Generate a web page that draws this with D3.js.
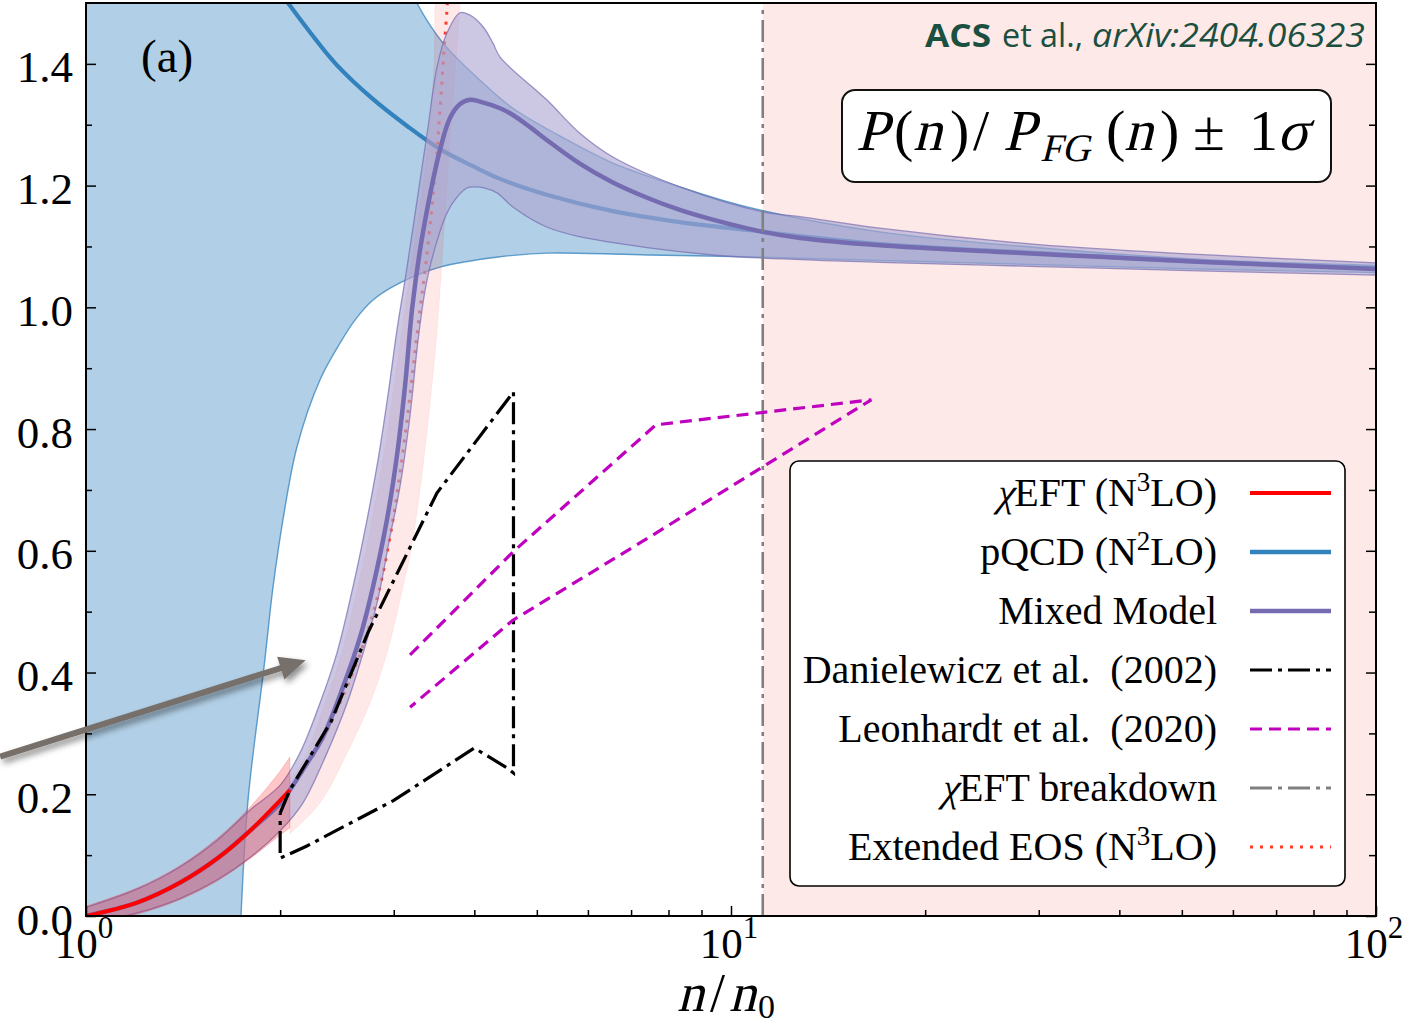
<!DOCTYPE html>
<html>
<head>
<meta charset="utf-8">
<title>P(n)/P_FG(n)</title>
<script src="https://cdn.jsdelivr.net/npm/d3@7/dist/d3.min.js"></script>
<style>
  html, body { margin: 0; padding: 0; background: #fff; }
  svg { display: block; }
</style>
</head>
<body>
<svg id="chart" width="1404" height="1030"></svg>
<script>
// ---------------------------------------------------------------
// Pressure normalised to the free Fermi gas, P(n)/P_FG(n), vs n/n0
// Each series is a list of [n/n0, P/P_FG] pairs.
// ---------------------------------------------------------------

// chiral EFT (N3LO): central value and 1-sigma band
const chiEftMid = [[1.0,0.0],[1.2,0.022],[1.4,0.055],[1.6,0.095],[1.8,0.141],[2.0,0.19],[2.07,0.207]];
const chiEftHi  = [[1.0,0.016],[1.2,0.046],[1.4,0.083],[1.6,0.128],[1.8,0.18],[2.0,0.238],[2.07,0.261]];
const chiEftLo  = [[1.0,-0.014],[1.2,0.003],[1.4,0.027],[1.6,0.058],[1.8,0.095],[2.0,0.133],[2.07,0.145]];

// pQCD (N2LO): central value and band
const pqcdMid = [[1.929,1.541],[2.057,1.5],[2.225,1.452],[2.449,1.398],[2.786,1.342],[3.146,1.298],[3.539,1.26],
  [3.981,1.232],[4.385,1.211],[5.18,1.185],[6.56,1.158],[8.33,1.14],[10.59,1.127],[17,1.104],[30,1.089],
  [53,1.075],[100,1.064]];
const pqcdHi = [[1.0,2.5],[2.8,2.0],[3.0,1.62],[3.124,1.545],[3.258,1.5],[3.578,1.434],[4.082,1.373],[4.59,1.327],
  [5.57,1.275],[6.56,1.237],[8.33,1.198],[10.59,1.165],[17,1.124],[30,1.098],[53,1.079],[100,1.069]];
const pqcdLo = [[1.0,-1.0],[1.6,-0.8],[1.70,-0.3],[1.739,0.0],[1.783,0.19],[1.888,0.409],[1.95,0.541],[2.02,0.651],
  [2.124,0.771],[2.306,0.881],[2.476,0.941],[2.612,0.979],[2.786,1.012],[3.067,1.04],[3.539,1.066],[4.385,1.083],
  [5.18,1.089],[7.41,1.086],[10.59,1.083],[17,1.077],[30,1.07],[53,1.063],[100,1.057]];

// Mixed model: central value and 1-sigma band
const mixedMid = [[1.0,0.0],[1.2,0.022],[1.4,0.055],[1.6,0.095],[1.8,0.141],[2.0,0.185],[2.071,0.207],[2.186,0.246],
  [2.33,0.294],[2.503,0.376],[2.66,0.458],[2.786,0.541],[2.928,0.651],[3.035,0.757],[3.124,0.872],[3.202,0.996],
  [3.295,1.094],[3.415,1.185],[3.539,1.259],[3.667,1.311],[3.801,1.334],[3.94,1.341],[4.082,1.338],[4.385,1.327],
  [4.59,1.316],[4.88,1.296],[5.18,1.275],[5.83,1.236],[6.56,1.205],[7.41,1.18],[8.33,1.16],[9.37,1.144],
  [11.2,1.124],[12.8,1.114],[17,1.102],[26.1,1.091],[37.3,1.083],[53,1.075],[100,1.063]];
const mixedHi = [[1.0,0.014],[1.2,0.044],[1.4,0.081],[1.6,0.125],[1.8,0.175],[2.0,0.215],[2.147,0.268],[2.306,0.35],
  [2.449,0.432],[2.594,0.541],[2.727,0.651],[2.836,0.749],[2.939,0.856],[3.035,0.963],[3.146,1.066],[3.261,1.176],
  [3.38,1.286],[3.502,1.395],[3.628,1.451],[3.801,1.484],[3.94,1.48],[4.126,1.461],[4.276,1.434],[4.385,1.411],
  [5.18,1.341],[5.83,1.286],[6.56,1.247],[8.33,1.198],[11.2,1.157],[12.8,1.149],[17,1.13],[30,1.103],[53,1.087],
  [100,1.073]];
const mixedLo = [[1.0,-0.012],[1.2,0.005],[1.4,0.029],[1.6,0.06],[1.8,0.097],[2.0,0.14],[2.17,0.186],[2.364,0.268],
  [2.54,0.35],[2.689,0.432],[2.826,0.514],[2.96,0.623],[3.067,0.705],[3.18,0.823],[3.272,0.946],[3.355,1.028],
  [3.451,1.086],[3.628,1.155],[3.76,1.181],[3.896,1.196],[4.01,1.198],[4.156,1.196],[4.338,1.188],[4.59,1.165],
  [5.18,1.132],[5.83,1.116],[7.41,1.098],[9.37,1.086],[11.2,1.081],[17,1.074],[30,1.067],[53,1.06],[100,1.053]];

// Extended EOS (N3LO): central value and band
const extMid = [[2.07,0.207],[2.3,0.28],[2.5,0.36],[2.7,0.45],[2.856,0.541],[2.96,0.623],[3.046,0.705],[3.146,0.815],
  [3.225,0.913],[3.295,0.996],[3.355,1.061],[3.415,1.135],[3.476,1.217],[3.539,1.324],[3.59,1.423],[3.628,1.489],
  [3.654,1.538]];
const extHi = [[2.07,0.225],[2.186,0.261],[2.347,0.35],[2.494,0.432],[2.641,0.541],[2.776,0.651],[2.887,0.749],
  [2.992,0.856],[3.09,0.963],[3.19,1.066],[3.306,1.176],[3.402,1.286],[3.463,1.395],[3.476,1.5],[3.49,1.555]];
const extLo = [[2.07,0.135],[2.306,0.186],[2.54,0.268],[2.756,0.35],[2.928,0.432],[3.101,0.541],[3.18,0.593],
  [3.295,0.7],[3.415,0.843],[3.502,0.963],[3.641,1.226],[3.801,1.497],[3.842,1.571]];

// Danielewicz et al. (2002) flow constraint (closed contour)
const daniUpper = [[2.0,0.169],[2.07,0.207],[2.4,0.32],[2.74,0.467],[3.5,0.695],[4.6,0.861]];
const daniLower = [[4.6,0.235],[4.5,0.243],[4.0,0.276],[3.0,0.19],[2.2,0.115],[2.0,0.095],[2.0,0.169]];

// Leonhardt et al. (2020)
const leonUpper = [[3.18,0.429],[4.59,0.598],[7.65,0.807],[16.5,0.848]];
const leonLower = [[3.18,0.343],[4.59,0.486],[7.65,0.629],[11.2,0.738],[16.5,0.848]];

// chiral EFT breakdown density
const breakdownDensity = 11.2;

// arrow annotation: tail and tip in data coordinates
const arrowTail = [0.736, 0.262];
const arrowTip  = [2.19, 0.42];

// ticks
const yMajorTicks = [0, 0.2, 0.4, 0.6, 0.8, 1.0, 1.2, 1.4];
const yMinorTicks = [0.1, 0.3, 0.5, 0.7, 0.9, 1.1, 1.3];
const xMajorTicks = [1, 10, 100];
const xTickExponents = ['0', '1', '2'];
const xMinorTicks = [2,3,4,5,6,7,8,9,20,30,40,50,60,70,80,90];

// legend labels (^d marks a superscript digit; a leading χ is set slanted)
const legendLabels = [
  'χEFT (N^3LO)',
  'pQCD (N^2LO)',
  'Mixed Model',
  'Danielewicz et al.  (2002)',
  'Leonhardt et al.  (2020)',
  'χEFT breakdown',
  'Extended EOS (N^3LO)'
];

// ---------------------------------------------------------------
const SERIF = "'Liberation Serif','Times New Roman',serif";
const COL = {
  red: '#ff0000',
  blue: '#3182bd',
  purple: '#756bb1',
  purpleFill: '#afa6d1',
  black: '#000000',
  magenta: '#bf00bf',
  gray: '#808080',
  dotted: '#ff3b26',
  pink: '#fde9e7'
};
const DASHDOT = '22,6,4,6';
const DASHED = '12,7';
const DOTTED = '3,7';

const svg = d3.select('#chart').attr('font-family', SERIF);

const x = d3.scaleLog().domain([1, 100]).range([86, 1376]);
const y = d3.scaleLinear().domain([0, 1.5]).range([916, 3]);

const defs = svg.append('defs');
defs.append('clipPath').attr('id', 'plot-clip')
  .append('rect')
  .attr('x', x(1)).attr('y', y(1.5))
  .attr('width', x(100) - x(1)).attr('height', y(0) - y(1.5));

const shadow = defs.append('filter').attr('id', 'arrow-shadow')
  .attr('x', '-20%').attr('y', '-50%').attr('width', '140%').attr('height', '200%');
shadow.append('feDropShadow')
  .attr('dx', 3).attr('dy', 4).attr('stdDeviation', 3)
  .attr('flood-color', '#000').attr('flood-opacity', 0.45);

const smooth = d3.line().x(d => x(d[0])).y(d => y(d[1])).curve(d3.curveCatmullRom.alpha(0.5));
const straight = d3.line().x(d => x(d[0])).y(d => y(d[1]));
const band = (hi, lo) => smooth(hi) + smooth(lo.slice().reverse()).replace(/^M/, 'L') + 'Z';

const plot = svg.append('g').attr('clip-path', 'url(#plot-clip)');

// region beyond the chiral EFT breakdown density
plot.append('rect')
  .attr('x', x(breakdownDensity)).attr('y', y(1.5))
  .attr('width', x(100) - x(breakdownDensity)).attr('height', y(0) - y(1.5))
  .attr('fill', COL.pink);

// pQCD band + central line
plot.append('path').attr('d', band(pqcdHi, pqcdLo))
  .attr('fill', COL.blue).attr('fill-opacity', 0.38).attr('stroke', 'none');
[pqcdHi, pqcdLo].forEach(edge => plot.append('path').attr('d', smooth(edge))
  .attr('fill', 'none').attr('stroke', COL.blue).attr('stroke-opacity', 0.75).attr('stroke-width', 1.4));
plot.append('path').attr('d', smooth(pqcdMid))
  .attr('fill', 'none').attr('stroke', COL.blue).attr('stroke-width', 4.2);

// extended EOS band + dotted central line
plot.append('path').attr('d', band(extHi, extLo))
  .attr('fill', COL.red).attr('fill-opacity', 0.09).attr('stroke', COL.red).attr('stroke-opacity', 0.06);
plot.append('path').attr('d', smooth(extMid))
  .attr('fill', 'none').attr('stroke', COL.dotted).attr('stroke-width', 3)
  .attr('stroke-dasharray', DOTTED);

// mixed model band
plot.append('path').attr('d', band(mixedHi, mixedLo))
  .attr('fill', COL.purpleFill).attr('fill-opacity', 0.63).attr('stroke', 'none');
[mixedHi, mixedLo].forEach(edge => plot.append('path').attr('d', smooth(edge))
  .attr('fill', 'none').attr('stroke', COL.purple).attr('stroke-opacity', 0.7).attr('stroke-width', 1.3));

// chiral EFT band
plot.append('path').attr('d', band(chiEftHi, chiEftLo))
  .attr('fill', COL.red).attr('fill-opacity', 0.22)
  .attr('stroke', COL.red).attr('stroke-opacity', 0.2).attr('stroke-width', 1);

// central lines
plot.append('path').attr('d', smooth(mixedMid))
  .attr('fill', 'none').attr('stroke', COL.purple).attr('stroke-width', 4.5);
plot.append('path').attr('d', smooth(chiEftMid))
  .attr('fill', 'none').attr('stroke', COL.red).attr('stroke-width', 4);

// chiral EFT breakdown line
plot.append('line')
  .attr('x1', x(breakdownDensity)).attr('x2', x(breakdownDensity))
  .attr('y1', y(0)).attr('y2', y(1.5))
  .attr('stroke', COL.gray).attr('stroke-width', 2.6).attr('stroke-dasharray', DASHDOT);

// Danielewicz et al. (2002)
plot.append('path').attr('d', straight(daniUpper.concat(daniLower)))
  .attr('fill', 'none').attr('stroke', COL.black).attr('stroke-width', 3.2)
  .attr('stroke-dasharray', DASHDOT);

// Leonhardt et al. (2020)
plot.append('path').attr('d', straight(leonUpper.concat(leonLower.slice().reverse())))
  .attr('fill', 'none').attr('stroke', COL.magenta).attr('stroke-width', 3.2)
  .attr('stroke-dasharray', DASHED);

// ---------------- axes ----------------
function styleAxis(g) {
  g.select('.domain').remove();
  g.selectAll('.tick line').attr('stroke', '#000').attr('stroke-width', 1.5);
}
svg.append('g').attr('transform', `translate(${x(1)},0)`)
  .call(d3.axisLeft(y).tickValues(yMinorTicks).tickSize(-6).tickFormat(''))
  .call(styleAxis);
const yAxisG = svg.append('g').attr('transform', `translate(${x(1)},0)`)
  .call(d3.axisLeft(y).tickValues(yMajorTicks).tickSize(-10).tickPadding(13).tickFormat(d3.format('.1f')))
  .call(styleAxis);
yAxisG.selectAll('text')
  .attr('font-family', SERIF).attr('font-size', 45).attr('fill', '#000').attr('dy', '0.4em');

svg.append('g').attr('transform', `translate(${x(100)},0)`)
  .call(d3.axisRight(y).tickValues(yMinorTicks).tickSize(-7).tickFormat(''))
  .call(styleAxis);
svg.append('g').attr('transform', `translate(${x(100)},0)`)
  .call(d3.axisRight(y).tickValues(yMajorTicks).tickSize(-10).tickFormat(''))
  .call(styleAxis);

svg.append('g').attr('transform', `translate(0,${y(0)})`)
  .call(d3.axisBottom(x).tickValues(xMinorTicks).tickSize(-6).tickFormat(''))
  .call(styleAxis);
svg.append('g').attr('transform', `translate(0,${y(0)})`)
  .call(d3.axisBottom(x).tickValues(xMajorTicks).tickSize(-10).tickFormat(''))
  .call(styleAxis);

xMajorTicks.forEach((v, i) => {
  const t = svg.append('text')
    .attr('x', x(v) - 2).attr('y', y(0) + 42)
    .attr('text-anchor', 'middle').attr('font-size', 43);
  t.append('tspan').text('10');
  t.append('tspan').attr('font-size', 31).attr('dy', -20).text(xTickExponents[i]);
});

// frame
svg.append('rect')
  .attr('x', x(1)).attr('y', y(1.5))
  .attr('width', x(100) - x(1)).attr('height', y(0) - y(1.5))
  .attr('fill', 'none').attr('stroke', '#000').attr('stroke-width', 2);

// math-style text: italic symbols are slanted serif glyphs
function mathPieces(parent, pieces, size) {
  const g = parent.append('g').attr('font-family', SERIF);
  pieces.forEach(p => {
    const fs = p.size || size;
    g.append('text')
      .attr('transform', `translate(${p.x},${p.y})` + (p.it ? ' skewX(-14)' : ''))
      .attr('font-size', fs)
      .text(p.s);
  });
  return g;
}

// x-axis label n/n0
mathPieces(svg, [
  { s: 'n', x: 677, y: 1011, it: true },
  { s: '/', x: 710, y: 1011 },
  { s: 'n', x: 729, y: 1011, it: true },
  { s: '0', x: 758, y: 1018, size: 34 }
], 54);

// panel tag
svg.append('text').attr('x', 141).attr('y', 72).attr('font-size', 47).text('(a)');

// reference line, top right
const SANS = "'Open Sans','Lato',sans-serif";
const ref = svg.append('g').attr('font-family', SANS).attr('fill', '#1b4f3f').attr('font-size', 32);
ref.append('text').attr('x', 925).attr('y', 47).attr('font-weight', 700)
  .attr('textLength', 66).attr('lengthAdjust', 'spacingAndGlyphs').text('ACS');
ref.append('text').attr('x', 1002).attr('y', 47)
  .attr('textLength', 81).attr('lengthAdjust', 'spacingAndGlyphs').text('et al.,');
ref.append('text').attr('x', 1092).attr('y', 47).attr('font-style', 'italic')
  .attr('textLength', 273).attr('lengthAdjust', 'spacingAndGlyphs').text('arXiv:2404.06323');

// quantity box
svg.append('rect')
  .attr('x', 842).attr('y', 90).attr('width', 489).attr('height', 92).attr('rx', 13)
  .attr('fill', '#fff').attr('stroke', '#111').attr('stroke-width', 2);
mathPieces(svg, [
  { s: 'P', x: 856, y: 150, it: true },
  { s: '(', x: 894, y: 150 },
  { s: 'n', x: 913, y: 150, it: true },
  { s: ')', x: 950, y: 150 },
  { s: '/', x: 973, y: 150 },
  { s: 'P', x: 1003, y: 150, it: true },
  { s: 'FG', x: 1040, y: 161, it: true, size: 39 },
  { s: '(', x: 1106, y: 150 },
  { s: 'n', x: 1124, y: 150, it: true },
  { s: ')', x: 1160, y: 150 },
  { s: '±', x: 1193, y: 150 },
  { s: '1', x: 1249, y: 150 },
  { s: 'σ', x: 1277, y: 150, it: true }
], 58);

// ---------------- legend ----------------
const legendStyles = [
  { stroke: COL.red, width: 4, dash: null },
  { stroke: COL.blue, width: 4.5, dash: null },
  { stroke: COL.purple, width: 4.5, dash: null },
  { stroke: COL.black, width: 3.2, dash: DASHDOT },
  { stroke: COL.magenta, width: 3.2, dash: DASHED },
  { stroke: COL.gray, width: 3.2, dash: DASHDOT },
  { stroke: COL.dotted, width: 3, dash: DOTTED }
];
const lg = svg.append('g');
lg.append('rect')
  .attr('x', 790).attr('y', 461).attr('width', 555).attr('height', 425).attr('rx', 9)
  .attr('fill', '#fff').attr('stroke', '#000').attr('stroke-width', 1.6);
legendLabels.forEach((label, i) => {
  const cy = 493 + i * 59;
  const st = legendStyles[i];
  lg.append('line')
    .attr('x1', 1250).attr('x2', 1331).attr('y1', cy).attr('y2', cy)
    .attr('stroke', st.stroke).attr('stroke-width', st.width)
    .attr('stroke-dasharray', st.dash);
  const slanted = label.startsWith('χ');
  const body = slanted ? label.slice(1) : label;
  const t = lg.append('text').attr('x', 1217).attr('y', cy + 13)
    .attr('text-anchor', 'end').attr('font-size', 40).attr('xml:space', 'preserve');
  body.split(/\^(\d)/).forEach((part, k) => {
    if (k % 2 === 1) {
      t.append('tspan').attr('font-size', 27).attr('dy', -15).text(part);
    } else if (part) {
      const sp = t.append('tspan').text(part);
      if (k > 0) sp.attr('dy', 15);
    }
  });
  if (slanted) {
    const w = t.node().getComputedTextLength();
    lg.append('text')
      .attr('transform', `translate(${1217 - w - 1},${cy + 13}) skewX(-14)`)
      .attr('text-anchor', 'end').attr('font-size', 40).text('χ');
  }
});

// ---------------- arrow annotation ----------------
(function drawArrow() {
  const x0 = x(arrowTail[0]), y0 = y(arrowTail[1]);
  const x1 = x(arrowTip[0]), y1 = y(arrowTip[1]);
  const dx = x1 - x0, dy = y1 - y0, len = Math.hypot(dx, dy);
  const ux = dx / len, uy = dy / len, nx = -uy, ny = ux;
  const headLen = 26, headHalf = 12, shaftHalf = 3;
  const bx = x1 - ux * headLen, by = y1 - uy * headLen;
  const pts = [
    [x0 + nx * shaftHalf, y0 + ny * shaftHalf],
    [bx + nx * shaftHalf, by + ny * shaftHalf],
    [bx + nx * headHalf, by + ny * headHalf],
    [x1, y1],
    [bx - nx * headHalf, by - ny * headHalf],
    [bx - nx * shaftHalf, by - ny * shaftHalf],
    [x0 - nx * shaftHalf, y0 - ny * shaftHalf]
  ];
  svg.append('path')
    .attr('d', 'M' + pts.map(p => p.join(',')).join('L') + 'Z')
    .attr('fill', '#77706a').attr('filter', 'url(#arrow-shadow)');
})();
</script>
</body>
</html>
